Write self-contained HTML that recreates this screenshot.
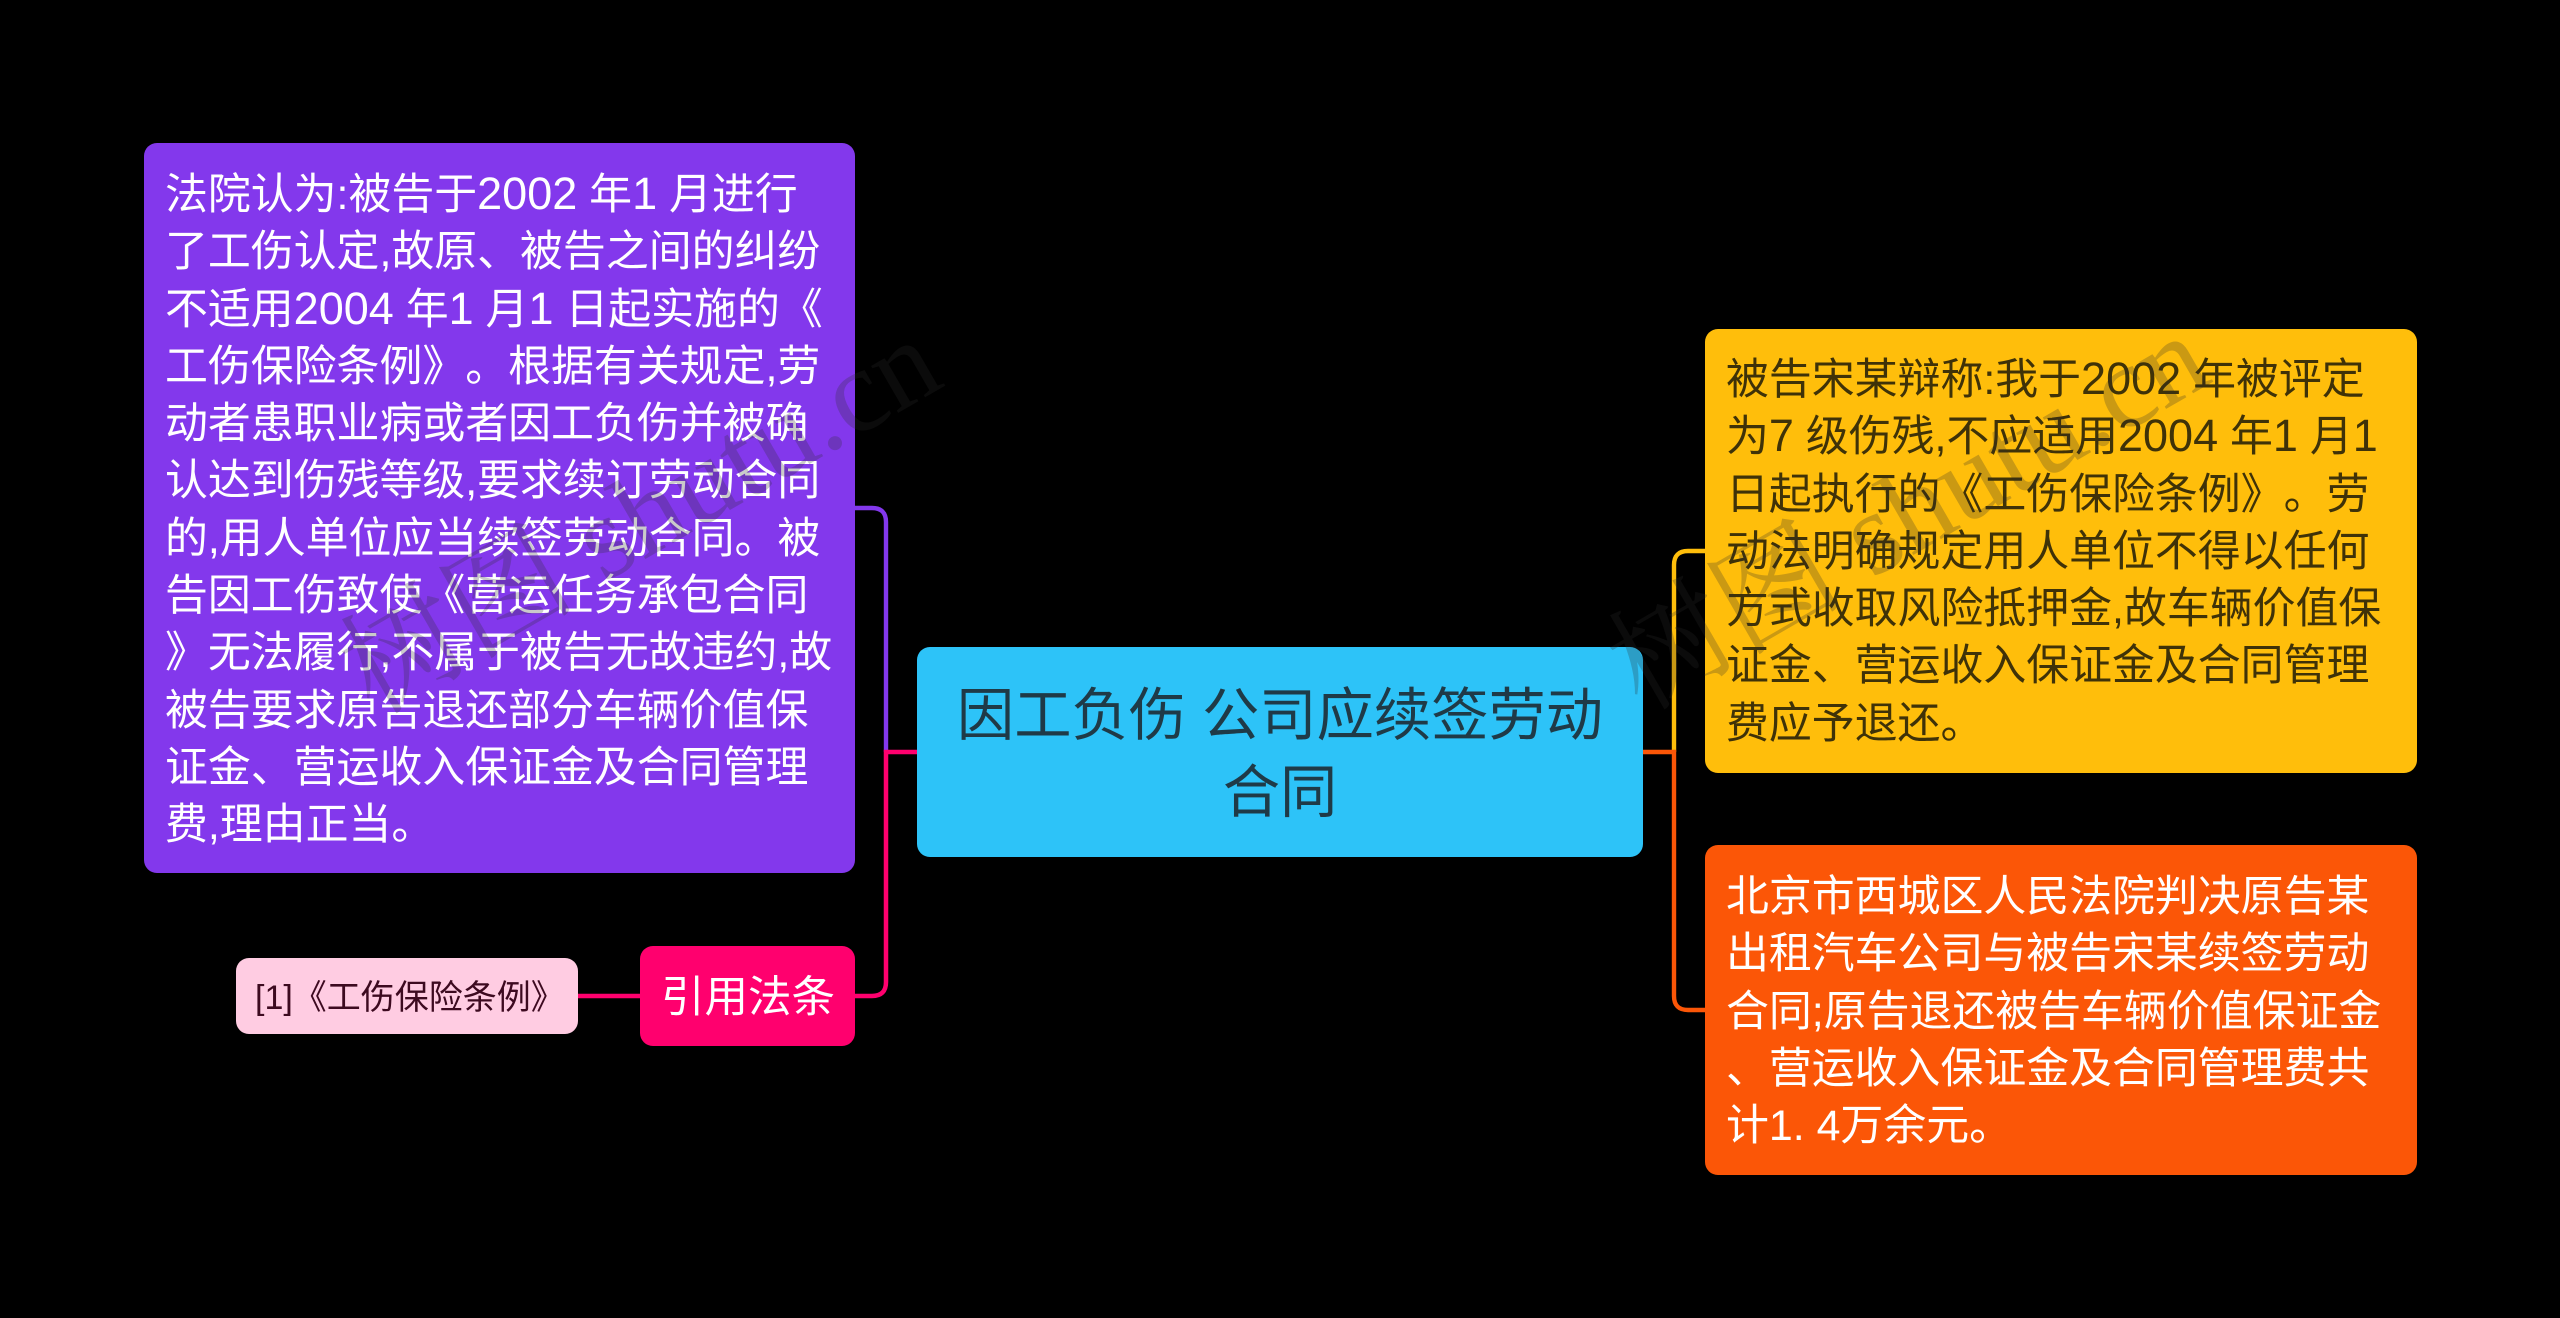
<!DOCTYPE html>
<html lang="zh">
<head>
<meta charset="utf-8">
<style>
html,body{margin:0;padding:0;background:#000;width:2560px;height:1318px;overflow:hidden}
body{position:relative;font-family:"Liberation Sans","Noto Sans CJK SC",sans-serif}
.box{position:absolute;border-radius:13px}
.t{position:absolute;white-space:pre;font-size:42.9px;line-height:57.3px;text-spacing-trim:space-all;font-feature-settings:"palt" 0}
.n{font-size:45px;line-height:1}
.wm{position:absolute;white-space:pre;font-family:"Liberation Serif","Noto Serif CJK SC",serif;font-size:118px;line-height:120px;color:rgba(45,45,45,.25);transform-origin:left center;transform:rotate(-30deg)}
svg{position:absolute;left:0;top:0}
</style>
</head>
<body>
<svg width="2560" height="1318" viewBox="0 0 2560 1318" fill="none">
<path d="M854 508H872Q886 508 886 522V752" stroke="#8338ec" stroke-width="4.4"/>
<path d="M917 752H886V982Q886 996 872 996H854" stroke="#ff006e" stroke-width="4.5"/>
<path d="M640 996H577" stroke="#ff006e" stroke-width="4.5"/>
<path d="M1705 551H1688Q1674 551 1674 565V752" stroke="#ffbe0b" stroke-width="4.4"/>
<path d="M1643 752H1674V996Q1674 1010 1688 1010H1705" stroke="#fb5607" stroke-width="4.4"/>
</svg>
<div class="box" style="left:143.5px;top:143px;width:711px;height:730px;background:#8338ec"></div>
<div class="box" style="left:640px;top:946px;width:215px;height:100px;background:#ff006e"></div>
<div class="box" style="left:236px;top:958px;width:342px;height:76px;background:#ffcce2"></div>
<div class="box" style="left:917px;top:647px;width:726px;height:210px;background:#2dc3f8"></div>
<div class="box" style="left:1705px;top:329px;width:711.5px;height:444px;background:#ffbe0b"></div>
<div class="box" style="left:1705px;top:845px;width:711.5px;height:330px;background:#fb5607"></div>

<div class="t" style="left:165px;top:167px;color:#fff">法院认为:被告于<span class="n">2002</span> 年<span class="n">1</span> 月进行
了工伤认定,故原、被告之间的纠纷
不适用<span class="n">2004</span> 年<span class="n">1</span> 月<span class="n">1</span> 日起实施的《
工伤保险条例》。根据有关规定,劳
动者患职业病或者因工负伤并被确
认达到伤残等级,要求续订劳动合同
的,用人单位应当续签劳动合同。被
告因工伤致使《营运任务承包合同
》无法履行,不属于被告无故违约,故
被告要求原告退还部分车辆价值保
证金、营运收入保证金及合同管理
费,理由正当。</div>
<div class="t" style="left:661px;top:970px;color:#fff;font-size:43.5px">引用法条</div>
<div class="t" style="left:255px;top:970px;color:#3d0a20;font-size:34px">[1]《工伤保险条例》</div>
<div class="t" style="left:917px;width:726px;top:678px;color:#1f3a47;font-size:57.3px;line-height:76.7px;text-align:center;white-space:normal">因工负伤 公司应续签劳动<br>合同</div>
<div class="t" style="left:1726px;top:352px;color:#3f3208">被告宋某辩称:我于<span class="n">2002</span> 年被评定
为<span class="n">7</span> 级伤残,不应适用<span class="n">2004</span> 年<span class="n">1</span> 月<span class="n">1</span>
日起执行的《工伤保险条例》。劳
动法明确规定用人单位不得以任何
方式收取风险抵押金,故车辆价值保
证金、营运收入保证金及合同管理
费应予退还。</div>
<div class="t" style="left:1726px;top:869px;color:#fff">北京市西城区人民法院判决原告某
出租汽车公司与被告宋某续签劳动
合同;原告退还被告车辆价值保证金
、营运收入保证金及合同管理费共
计1. 4万余元。</div>

<div class="wm" style="left:354px;top:622px">树图 shutu.cn</div>
<div class="wm" style="left:1622px;top:618px">树图 shutu.cn</div>
</body>
</html>
